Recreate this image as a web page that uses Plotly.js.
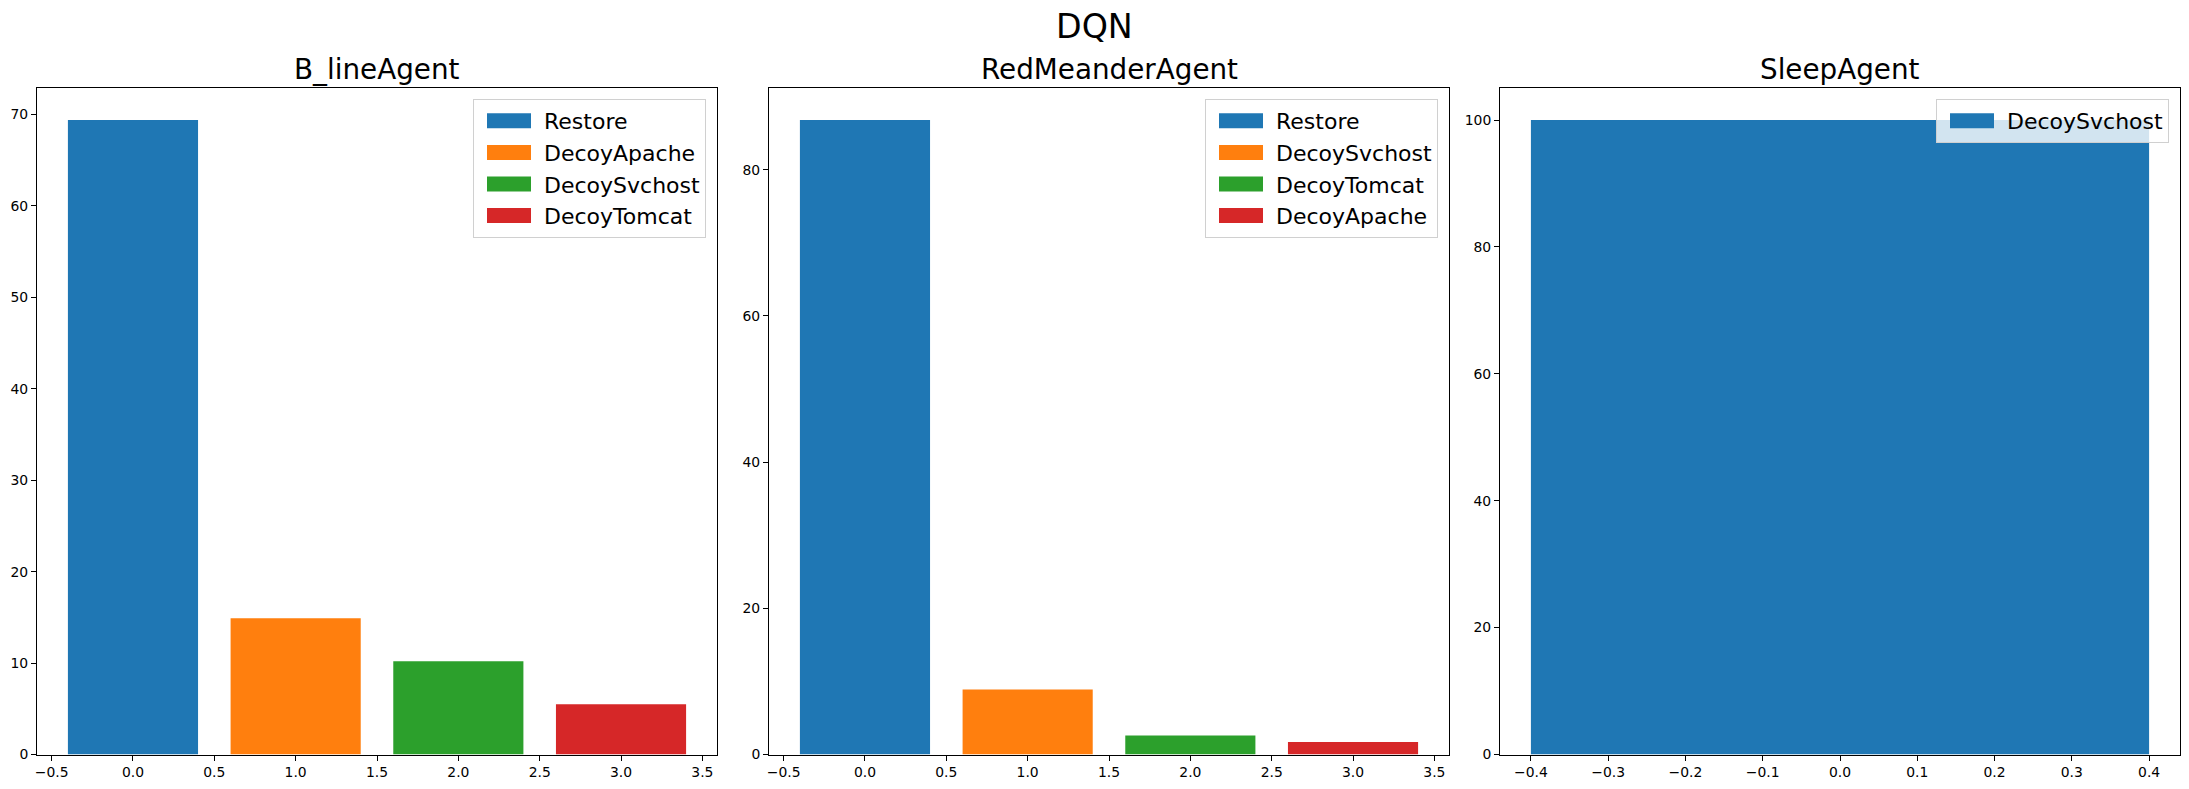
<!DOCTYPE html>
<html>
<head>
<meta charset="utf-8">
<script src="https://cdn.plot.ly/plotly-3.0.1.min.js"></script>
<style>
  html, body { margin: 0; padding: 0; background: #ffffff; }
  #chart { width: 2189px; height: 789px; }
</style>
</head>
<body>
<div id="chart"></div>
<script>
// ---- data ----
const suptitle = 'DQN';
const agents = ['B_lineAgent', 'RedMeanderAgent', 'SleepAgent'];
const blineActions = ['Restore', 'DecoyApache', 'DecoySvchost', 'DecoyTomcat'];
const blineValues = [69.4, 14.9, 10.2, 5.5];
const meanderActions = ['Restore', 'DecoySvchost', 'DecoyTomcat', 'DecoyApache'];
const meanderValues = [86.8, 8.9, 2.6, 1.7];
const sleepActions = ['DecoySvchost'];
const sleepValues = [100];
const barColors = ['#1f77b4', '#ff7f0e', '#2ca02c', '#d62728'];
const yTickSteps = [10, 20, 20];
const xTickSteps = [0.5, 0.5, 0.1];

const panels = [
  { actions: blineActions, values: blineValues },
  { actions: meanderActions, values: meanderValues },
  { actions: sleepActions, values: sleepValues }
];

// ---- layout geometry (pixels) ----
const W = 2189, H = 789;
const axLeft = [37, 769, 1500];
const axWidth = 680;
const axTop = 88.3, axBottom = 754.5;
const barWidth = 0.8;
const FONT = 'DejaVu Sans, Liberation Sans, sans-serif';

const traces = [];
const layout = {
  width: W, height: H,
  margin: { l: 0, r: 0, t: 0, b: 0, pad: 0 },
  paper_bgcolor: '#ffffff',
  plot_bgcolor: '#ffffff',
  barmode: 'overlay',
  font: { family: FONT, color: '#000000', size: 14 },
  annotations: [],
  showlegend: true
};

const yDom = [(H - axBottom) / H, (H - axTop) / H];

panels.forEach((p, k) => {
  const sfx = k === 0 ? '' : String(k + 1);
  const xa = 'x' + sfx, ya = 'y' + sfx;
  const legName = 'legend' + sfx;
  p.actions.forEach((name, i) => {
    traces.push({
      type: 'bar',
      name: name,
      x: [i],
      y: [p.values[i]],
      width: [barWidth],
      marker: { color: barColors[i % barColors.length], line: { width: 0 } },
      xaxis: xa, yaxis: ya,
      legend: legName,
      showlegend: true,
      hoverinfo: 'skip'
    });
  });
  const n = p.actions.length;
  const lo = -barWidth / 2, hi = n - 1 + barWidth / 2;
  const span = hi - lo;
  const xDom = [axLeft[k] / W, (axLeft[k] + axWidth) / W];
  const axCommon = {
    showline: true, linecolor: '#000000', linewidth: 1, mirror: true,
    ticks: 'outside', ticklen: 5, tickwidth: 1, tickcolor: '#000000',
    showgrid: false, zeroline: false,
    tickfont: { family: FONT, size: 13.9, color: '#000000' },
    fixedrange: true
  };
  layout['xaxis' + sfx] = Object.assign({}, axCommon, {
    domain: xDom,
    anchor: ya,
    range: [lo - 0.05 * span, hi + 0.05 * span],
    tick0: 0, dtick: xTickSteps[k], tickformat: '.1f'
  });
  const vmax = Math.max(...p.values);
  layout['yaxis' + sfx] = Object.assign({}, axCommon, {
    domain: yDom,
    anchor: xa,
    range: [0, vmax * 1.05],
    tick0: 0, dtick: yTickSteps[k]
  });
  layout[legName] = {
    x: (axLeft[k] + axWidth - 11) / W,
    y: (H - 99) / H,
    xanchor: 'right', yanchor: 'top',
    xref: 'paper', yref: 'paper',
    bgcolor: 'rgba(255,255,255,0.8)',
    bordercolor: '#d0d0d0', borderwidth: 1,
    font: { family: FONT, size: 22, color: '#000000' },
    itemwidth: 60,
    tracegroupgap: 0
  };
  layout.annotations.push({
    text: agents[k],
    xref: 'paper', yref: 'paper',
    x: (axLeft[k] + axWidth / 2) / W,
    y: (H - axTop) / H,
    xanchor: 'center', yanchor: 'bottom',
    showarrow: false,
    font: { family: FONT, size: 27.8, color: '#000000' }
  });
});

layout.annotations.push({
  text: suptitle,
  xref: 'paper', yref: 'paper',
  x: 0.5, y: (H - 48) / H,
  xanchor: 'center', yanchor: 'bottom',
  showarrow: false,
  font: { family: FONT, size: 33.3, color: '#000000' }
});

Plotly.newPlot('chart', traces, layout, { displayModeBar: false, staticPlot: true }).then(gd => {
  // widen legend patches to look like matplotlib bar handles
  gd.querySelectorAll('.legendpoints path').forEach(pth => {
    pth.setAttribute('d', 'M22,7.5H-22V-7.5H22Z');
  });
});
</script>
</body>
</html>
